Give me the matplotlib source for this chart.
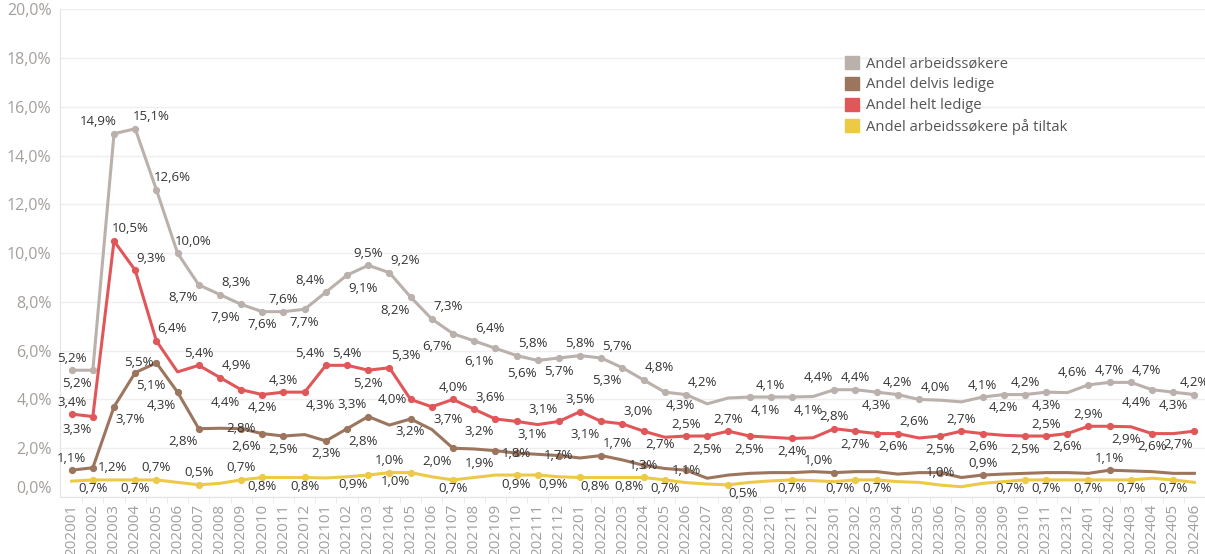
import matplotlib as mpl
mpl.use('Agg')
import matplotlib.pyplot as plt
from matplotlib.patches import Patch

# ---- data (prosent) ----
months = ['202001', '202002', '202003', '202004', '202005', '202006', '202007', '202008',
          '202009', '202010', '202011', '202012', '202101', '202102', '202103', '202104',
          '202105', '202106', '202107', '202108', '202109', '202110', '202111', '202112',
          '202201', '202202', '202203', '202204', '202205', '202206', '202207', '202208',
          '202209', '202210', '202211', '202212', '202301', '202302', '202303', '202304',
          '202305', '202306', '202307', '202308', '202309', '202310', '202311', '202312',
          '202401', '202402', '202403', '202404', '202405', '202406']

arbeidssokere = [5.2, 5.2, 14.9, 15.1, 12.6, 10.0, 8.7, 8.3, 7.9, 7.6, 7.6, 7.7, 8.4, 9.1,
                 9.5, 9.2, 8.2, 7.3, 6.7, 6.4, 6.1, 5.8, 5.6, 5.7, 5.8, 5.7, 5.3, 4.8, 4.3,
                 4.2, 3.82, 4.06, 4.1, 4.1, 4.1, 4.12, 4.4, 4.4, 4.3, 4.2, 4.0, 3.97, 3.9,
                 4.1, 4.2, 4.2, 4.3, 4.28, 4.6, 4.7, 4.7, 4.4, 4.3, 4.2]

delvis_ledige = [1.1, 1.2, 3.7, 5.1, 5.5, 4.3, 2.8, 2.82, 2.8, 2.6, 2.5, 2.56, 2.3, 2.8,
                 3.3, 2.95, 3.2, 2.77, 2.0, 1.97, 1.9, 1.8, 1.75, 1.7, 1.6, 1.7, 1.52, 1.3,
                 1.17, 1.1, 0.77, 0.9, 0.97, 1.0, 1.0, 1.04, 1.0, 1.04, 1.04, 0.94, 1.0,
                 1.0, 0.8, 0.9, 0.94, 0.97, 1.0, 1.0, 0.97, 1.1, 1.07, 1.04, 0.97, 0.97]

helt_ledige = [3.4, 3.3, 10.5, 9.3, 6.4, 5.13, 5.4, 4.9, 4.4, 4.2, 4.3, 4.3, 5.4, 5.4, 5.2,
               5.3, 4.0, 3.7, 4.0, 3.6, 3.2, 3.1, 2.97, 3.1, 3.5, 3.1, 3.0, 2.7, 2.45, 2.5,
               2.5, 2.7, 2.5, 2.45, 2.4, 2.43, 2.8, 2.7, 2.6, 2.6, 2.42, 2.5, 2.7, 2.6,
               2.53, 2.5, 2.5, 2.6, 2.9, 2.9, 2.88, 2.6, 2.6, 2.7]

tiltak = [0.65, 0.7, 0.7, 0.7, 0.7, 0.6, 0.5, 0.56, 0.7, 0.8, 0.8, 0.8, 0.78, 0.83, 0.9,
          1.0, 1.0, 0.83, 0.7, 0.8, 0.9, 0.9, 0.9, 0.83, 0.8, 0.8, 0.8, 0.8, 0.7, 0.59,
          0.53, 0.5, 0.6, 0.66, 0.7, 0.67, 0.63, 0.7, 0.7, 0.63, 0.6, 0.49, 0.42, 0.56,
          0.63, 0.7, 0.7, 0.7, 0.7, 0.7, 0.7, 0.77, 0.7, 0.6]

# hvilke punkter som har etikett, og hvor etiketten står
lab_arb = [(0, 'N'), (1, 'SW'), (2, 'NW'), (3, 'NE'), (4, 'NE'), (5, 'NE'), (6, 'SW'),
           (7, 'NE'), (8, 'SW'), (9, 'S'), (10, 'N'), (11, 'S'), (12, 'NW'), (13, 'SE'),
           (14, 'N'), (15, 'NE'), (16, 'SW'), (17, 'NE'), (18, 'SW'), (19, 'NE'), (20, 'SW'),
           (21, 'NE'), (22, 'SW'), (23, 'S'), (24, 'N'), (25, 'NE'), (26, 'SW'), (27, 'NE'),
           (28, 'SE'), (29, 'NE'), (32, 'SE'), (33, 'N'), (34, 'SE'), (36, 'NW'), (37, 'N'),
           (38, 'S'), (39, 'N'), (40, 'NE'), (43, 'N'), (44, 'S'), (45, 'N'), (46, 'S'),
           (48, 'NW'), (49, 'N'), (50, 'NE'), (51, 'SW'), (52, 'S'), (53, 'N')]
lab_delvis = [(0, 'N'), (1, 'E'), (2, 'SE'), (3, 'SE'), (4, 'W'), (5, 'SW'), (6, 'SW'),
              (8, 'C'), (9, 'SW'), (10, 'S'), (12, 'S'), (13, 'SE'), (14, 'NW'), (16, 'S'),
              (18, 'SW'), (20, 'SW'), (21, 'C'), (23, 'C'), (25, 'NE'), (27, 'C'), (29, 'C'),
              (36, 'NW'), (41, 'C'), (43, 'N'), (49, 'N')]
lab_helt = [(0, 'N'), (1, 'SW'), (2, 'NE'), (3, 'NE'), (4, 'NE'), (6, 'N'), (7, 'NE'),
            (8, 'SW'), (9, 'S'), (10, 'N'), (11, 'SE'), (12, 'NW'), (13, 'N'), (14, 'S'),
            (15, 'NE'), (16, 'W'), (17, 'SE'), (18, 'N'), (19, 'NE'), (20, 'SW'), (21, 'SE'),
            (23, 'NW'), (24, 'N'), (25, 'SW'), (26, 'NE'), (27, 'SE'), (29, 'N'), (30, 'S'),
            (31, 'N'), (32, 'S'), (34, 'S'), (36, 'N'), (37, 'S'), (38, 'SE'), (39, 'NE'),
            (41, 'S'), (42, 'N'), (43, 'S'), (45, 'S'), (46, 'N'), (47, 'S'), (48, 'N'),
            (49, 'SE'), (51, 'S'), (53, 'SW')]
lab_tiltak = [(1, 'B'), (3, 'B'), (4, 'N'), (6, 'N'), (8, 'N'), (9, 'B'), (11, 'B'),
              (14, 'BW'), (15, 'N'), (16, 'BW'), (18, 'B'), (21, 'B'), (22, 'BE'), (24, 'BE'),
              (27, 'BW'), (28, 'B'), (31, 'BE'), (34, 'B'), (37, 'BW'), (38, 'B'), (45, 'BW'),
              (46, 'B'), (48, 'B'), (50, 'B'), (52, 'B')]

series = [
    ('Andel arbeidssøkere', arbeidssokere, '#bab0ac', lab_arb),
    ('Andel delvis ledige', delvis_ledige, '#9c755f', lab_delvis),
    ('Andel helt ledige', helt_ledige, '#e15759', lab_helt),
    ('Andel arbeidssøkere på tiltak', tiltak, '#edc948', lab_tiltak),
]

# forskyvning i piksler for etikettene
offsets = {'N': (0, 12), 'S': (0, -13), 'NE': (16, 12), 'NW': (-16, 12),
           'SE': (16, -13), 'SW': (-16, -13), 'E': (20, 0), 'W': (-18, 0), 'C': (0, 0),
           'B': (0, -9), 'BW': (-15, -9), 'BE': (15, -9)}

plt.rcParams['font.family'] = ['Open Sans', 'DejaVu Sans']


def pct(v):
    return f"{v:.1f}".replace('.', ',') + '%'


fig = plt.figure(figsize=(12.05, 5.54), dpi=100)
ax = fig.add_axes([60 / 1205, 57 / 554, 1145 / 1205, 487.7 / 554])

x = list(range(len(months)))
for name, vals, color, labs in series:
    ax.plot(x, vals, color=color, lw=2.2, solid_joinstyle='round', zorder=3)
    idx = [i for i, _ in labs]
    ax.plot(idx, [vals[i] for i in idx], 'o', color=color, ms=4.2, zorder=4)
    for i, pos in labs:
        dx, dy = offsets[pos]
        ax.annotate(pct(vals[i]), (i, vals[i]), xytext=(dx, dy), textcoords='offset pixels',
                    ha='center', va='center', fontsize=9.5, color='#333333',
                    annotation_clip=False, zorder=5)

ax.set_xlim(-0.55, 53.2)
ax.set_ylim(0, 20)
ax.set_yticks([0, 2, 4, 6, 8, 10, 12, 14, 16, 18, 20])
ax.set_yticklabels([pct(v) for v in range(0, 21, 2)], fontsize=11.5, color='#a3a09c')
ax.set_xticks(x)
ax.set_xticklabels(months, rotation=90, fontsize=11, color='#a0a0a0')
ax.set_xticks([i + 0.5 for i in x], minor=True)
ax.tick_params(axis='x', which='major', length=0, pad=5)
ax.tick_params(axis='x', which='minor', length=4, color='#e6e6e6')
ax.tick_params(axis='y', length=0, pad=6)
ax.get_yticklabels()[0].set_va('bottom')

ax.grid(axis='y', color='#efefef', lw=1)
ax.set_axisbelow(True)
for s in ['top', 'right']:
    ax.spines[s].set_visible(False)
for s in ['left', 'bottom']:
    ax.spines[s].set_color('#e4e4e4')

handles = [Patch(facecolor=c, edgecolor=c) for _, _, c, _ in series]
leg = fig.legend(handles, [n for n, _, _, _ in series], loc='upper left',
                 bbox_to_anchor=(845 / 1205, 1 - 56 / 554), frameon=False,
                 fontsize=10.7, handlelength=0.95, handleheight=0.95, handletextpad=0.45,
                 labelspacing=0.36, borderpad=0, borderaxespad=0)
for t in leg.get_texts():
    t.set_color('#555555')

fig.savefig('out.png', dpi=100)
